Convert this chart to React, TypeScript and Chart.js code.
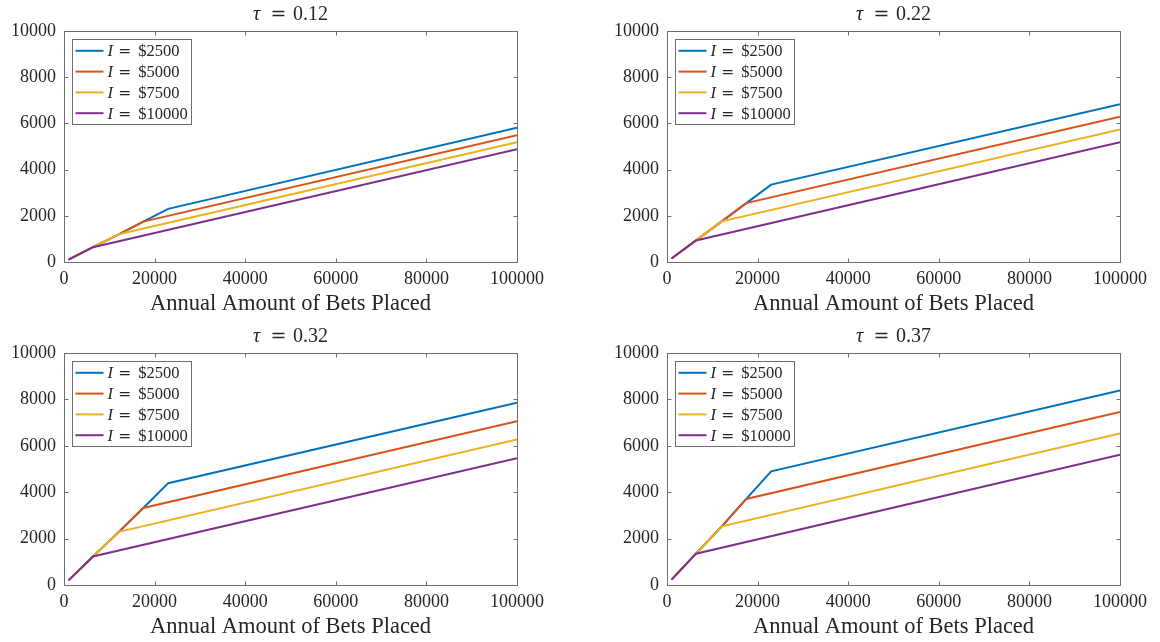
import React, { useEffect, useRef } from 'react';
import { Chart, registerables } from 'chart.js';

Chart.register(...registerables);

// ---------------- data ----------------
const incomeLabels = ['$2500', '$5000', '$7500', '$10000'];
const tauLabels = ['0.12', '0.22', '0.32', '0.37'];
const xTicks = [0, 20000, 40000, 60000, 80000, 100000];
const yTicks = [0, 2000, 4000, 6000, 8000, 10000];

const xStart = 1000;
const xEnd = 100000;
// kink x position for each income level ($2500, $5000, $7500, $10000)
const xKinks = [23000, 17500, 12100, 6400];

// start values per tau
const yStart = [100, 150, 200, 230];
// kink values per income for each tau
const kinkTau012 = [2300, 1750, 1200, 640];
const kinkTau022 = [3350, 2550, 1760, 935];
const kinkTau032 = [4390, 3320, 2290, 1230];
const kinkTau037 = [4900, 3710, 2530, 1350];
// values at 100000 per income for each tau
const endTau012 = [5810, 5490, 5190, 4880];
const endTau022 = [6830, 6290, 5740, 5190];
const endTau032 = [7860, 7060, 6270, 5460];
const endTau037 = [8380, 7460, 6530, 5620];

const kinkSets = [kinkTau012, kinkTau022, kinkTau032, kinkTau037];
const endSets = [endTau012, endTau022, endTau032, endTau037];

// ---------------- style ----------------
const lineColors = ['#0072BD', '#D95319', '#EDB120', '#7E2F8E'];
const textColor = '#262626';
const boxColor = '#6e6e6e';
const FONT = '"Liberation Serif", "DejaVu Serif", serif';
const EQ_FONT = '"DejaVu Serif", "Liberation Serif", serif';

const CW = 580;
const CH = 321;

type Area = { left: number; top: number; right: number; bottom: number };
const panelLayout: { left: number; top: number; area: Area }[] = [
  { left: 0, top: 0, area: { left: 64, top: 31, right: 517, bottom: 262 } },
  { left: 580, top: 0, area: { left: 87, top: 31, right: 540, bottom: 262 } },
  { left: 0, top: 321, area: { left: 64, top: 32, right: 517, bottom: 264 } },
  { left: 580, top: 321, area: { left: 87, top: 32, right: 540, bottom: 264 } },
];

function buildSeries(p: number) {
  const kinks = kinkSets[p];
  const ends = endSets[p];
  return incomeLabels.map((_, i) => {
    const pts: { x: number; y: number }[] = [{ x: xStart, y: yStart[p] }];
    for (let j = incomeLabels.length - 1; j >= i; j--) {
      pts.push({ x: xKinks[j], y: kinks[j] });
    }
    pts.push({ x: xEnd, y: ends[i] });
    return pts;
  });
}

function makeDecor(tau: string) {
  return {
    id: 'decor',
    beforeDatasetsDraw(chart: any) {
      const { ctx, chartArea: a, scales } = chart;
      ctx.save();
      ctx.strokeStyle = boxColor;
      ctx.lineWidth = 1;
      const L = Math.round(a.left) + 0.5;
      const R = Math.round(a.right) + 0.5;
      const T = Math.round(a.top) + 0.5;
      const B = Math.round(a.bottom) + 0.5;
      ctx.beginPath();
      ctx.rect(L, T, R - L, B - T);
      const tl = 4;
      xTicks.forEach((v) => {
        const px = Math.round(scales.x.getPixelForValue(v)) + 0.5;
        ctx.moveTo(px, B);
        ctx.lineTo(px, B - tl);
        ctx.moveTo(px, T);
        ctx.lineTo(px, T + tl);
      });
      yTicks.forEach((v) => {
        const py = Math.round(scales.y.getPixelForValue(v)) + 0.5;
        ctx.moveTo(L, py);
        ctx.lineTo(L + tl, py);
        ctx.moveTo(R, py);
        ctx.lineTo(R - tl, py);
      });
      ctx.stroke();
      ctx.restore();
    },
    afterDraw(chart: any) {
      const { ctx, chartArea: a } = chart;
      const cx = (a.left + a.right) / 2;
      ctx.save();
      ctx.fillStyle = textColor;
      ctx.textBaseline = 'alphabetic';

      // title
      const ty = a.top - 11;
      ctx.font = `italic 20px ${FONT}`;
      ctx.textAlign = 'left';
      ctx.fillText('τ', cx - 37.5, ty);
      ctx.font = `19px ${EQ_FONT}`;
      ctx.textAlign = 'center';
      ctx.fillText('=', cx - 12, ty);
      ctx.font = `20px ${FONT}`;
      ctx.textAlign = 'left';
      ctx.fillText(tau, cx + 2.5, ty);

      // x axis label
      ctx.font = `22.5px ${FONT}`;
      ctx.textAlign = 'center';
      ctx.fillText('Annual Amount of Bets Placed', cx, a.bottom + 47.5);

      // legend
      const bx = Math.round(a.left + 7.5) + 0.5;
      const by = Math.round(a.top + 8) + 0.5;
      const bw = 119;
      const bh = 85;
      ctx.fillStyle = '#ffffff';
      ctx.fillRect(bx, by, bw, bh);
      ctx.strokeStyle = boxColor;
      ctx.lineWidth = 1;
      ctx.strokeRect(bx, by, bw, bh);
      incomeLabels.forEach((lab, i) => {
        const cy = by + 11.3 + 20.8 * i;
        ctx.strokeStyle = lineColors[i];
        ctx.lineWidth = 2;
        ctx.beginPath();
        ctx.moveTo(bx + 3, cy);
        ctx.lineTo(bx + 31, cy);
        ctx.stroke();
        const base = cy + 5.6;
        ctx.fillStyle = textColor;
        ctx.font = `italic 16.5px ${FONT}`;
        ctx.textAlign = 'left';
        ctx.fillText('I', bx + 35, base);
        ctx.font = `15.5px ${EQ_FONT}`;
        ctx.textAlign = 'center';
        ctx.fillText('=', bx + 52.2, base);
        ctx.font = `16.5px ${FONT}`;
        ctx.textAlign = 'left';
        ctx.fillText(lab, bx + 65.7, base);
      });
      ctx.restore();
    },
  };
}

function Panel({ index }: { index: number }) {
  const ref = useRef<HTMLCanvasElement | null>(null);
  useEffect(() => {
    const canvas = ref.current;
    if (!canvas) return;
    const lay = panelLayout[index];
    const a = lay.area;
    const series = buildSeries(index);
    const chart = new Chart(canvas, {
      type: 'line',
      data: {
        datasets: incomeLabels.map((lab, i) => ({
          label: 'I = ' + lab,
          data: series[i],
          borderColor: lineColors[i],
          backgroundColor: lineColors[i],
          borderWidth: 2,
          pointRadius: 0,
          fill: false,
          tension: 0,
          order: incomeLabels.length - i,
        })),
      },
      options: {
        animation: false,
        responsive: false,
        layout: { padding: { left: 0, top: a.top, right: CW - a.right, bottom: 0 } },
        plugins: {
          legend: { display: false },
          title: { display: false },
          tooltip: { enabled: false },
        },
        scales: {
          x: {
            type: 'linear',
            min: 0,
            max: 100000,
            afterBuildTicks: (s: any) => {
              s.ticks = xTicks.map((v) => ({ value: v }));
            },
            afterFit: (s: any) => {
              s.height = CH - a.bottom;
            },
            ticks: {
              callback: (v: any) => String(v),
              font: { family: FONT, size: 18 },
              color: textColor,
              padding: 6,
              maxRotation: 0,
              autoSkip: false,
            },
            grid: { display: false, drawTicks: false },
            border: { display: false },
          },
          y: {
            type: 'linear',
            min: 0,
            max: 10000,
            afterBuildTicks: (s: any) => {
              s.ticks = yTicks.map((v) => ({ value: v }));
            },
            afterFit: (s: any) => {
              s.width = a.left;
            },
            ticks: {
              callback: (v: any) => String(v),
              font: { family: FONT, size: 18 },
              color: textColor,
              padding: 8,
              autoSkip: false,
            },
            grid: { display: false, drawTicks: false },
            border: { display: false },
          },
        },
      },
      plugins: [makeDecor(tauLabels[index])],
    } as any);
    return () => chart.destroy();
  }, [index]);
  const lay = panelLayout[index];
  return (
    <canvas
      ref={ref}
      width={CW}
      height={CH}
      style={{ position: 'absolute', left: lay.left, top: lay.top, width: CW, height: CH }}
    />
  );
}

export default function App() {
  return (
    <div
      style={{
        position: 'absolute',
        left: 0,
        top: 0,
        width: 1160,
        height: 642,
        background: '#ffffff',
        overflow: 'hidden',
      }}
    >
      {panelLayout.map((_, i) => (
        <Panel key={i} index={i} />
      ))}
    </div>
  );
}
